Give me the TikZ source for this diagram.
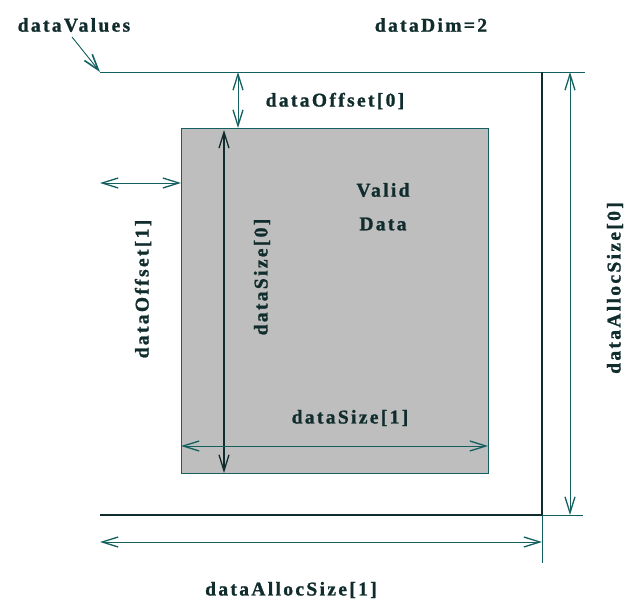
\documentclass[tikz,border=0pt]{standalone}
\usepackage{fontspec}
\setmainfont{Liberation Serif}[LetterSpace=12, BoldFeatures={FakeBold=1.2}]
\usetikzlibrary{arrows.meta}
\definecolor{ink}{RGB}{16,44,44}
\definecolor{wire}{RGB}{20,95,95}
\definecolor{panel}{RGB}{190,190,190}
\tikzset{
  lbl/.style={font=\fontsize{19.5}{21}\selectfont\bfseries, text=ink, inner sep=0pt},
  thin/.style={draw=wire, line width=0.9pt},
  heavy/.style={draw=ink, line width=2pt},
  dim/.style={thin, {Straight Barb[length=16pt,width=10pt,line width=1.3pt]}-{Straight Barb[length=16pt,width=10pt,line width=1.3pt]}},
  tipline/.style={thin, -{Straight Barb[length=16pt,width=10pt,line width=1.6pt]}},
}
\begin{document}
\begin{tikzpicture}[x=1pt, y=-1pt]
  \useasboundingbox (0,0) rectangle (626,601);

  % reference points
  \coordinate (tl) at (100,72);
  \coordinate (tr) at (585,72);
  \coordinate (vt) at (542,72);
  \coordinate (vb) at (542,515);
  \coordinate (vend) at (542,563);
  \coordinate (bl) at (100,515);
  \coordinate (br) at (583,515);
  \coordinate (at) at (570,72);
  \coordinate (ab) at (570,515);
  \coordinate (al) at (100,542);
  \coordinate (ar) at (542,542);
  \coordinate (ot) at (238,72);
  \coordinate (ob) at (238,128);
  \coordinate (ol) at (100,183);
  \coordinate (or) at (181,183);
  \coordinate (st) at (224,130);
  \coordinate (sb) at (224,473);
  \coordinate (sl) at (181,446);
  \coordinate (sr) at (488,446);
  \coordinate (src) at (72,37);

  % valid data block
  \node[draw=wire, line width=0.9pt, fill=panel, minimum width=307pt, minimum height=345pt, inner sep=0pt, anchor=north west] (block) at (181,128) {};

  % allocation outline
  \draw[thin] (tl) -- (tr);
  \draw[heavy] (vt) -- (vb);
  \draw[thin] (vb) -- (vend);
  \draw[heavy] (bl) -- (vb);
  \draw[thin] (vb) -- (br);

  % dimension arrows
  \draw[dim] (at) -- (ab);
  \draw[dim] (al) -- (ar);
  \draw[dim] (ot) -- (ob);
  \draw[dim] (ol) -- (or);
  \draw[dim, draw=ink, line width=1.4pt] (st) -- (sb);
  \draw[dim] (sl) -- (sr);
  \draw[tipline] (src) -- (tl);

  % labels
  \node[lbl] (vals) at (74,25) {dataValues};
  \node[lbl] (ndim) at (431,25) {dataDim=2};
  \node[lbl] (off0) at (335,101) {dataOffset[0]};
  \node[lbl, rotate=90] (off1) at (143,289) {dataOffset[1]};
  \node[lbl, rotate=90] (sz0) at (262,277) {dataSize[0]};
  \node[lbl] (sz1) at (350,418) {dataSize[1]};
  \node[lbl] (valid) at (383,190) {Valid};
  \node[lbl] (data) at (383,224) {Data};
  \node[lbl, rotate=90] (al0) at (615,288) {dataAllocSize[0]};
  \node[lbl] (al1) at (291,590) {dataAllocSize[1]};
\end{tikzpicture}
\end{document}
